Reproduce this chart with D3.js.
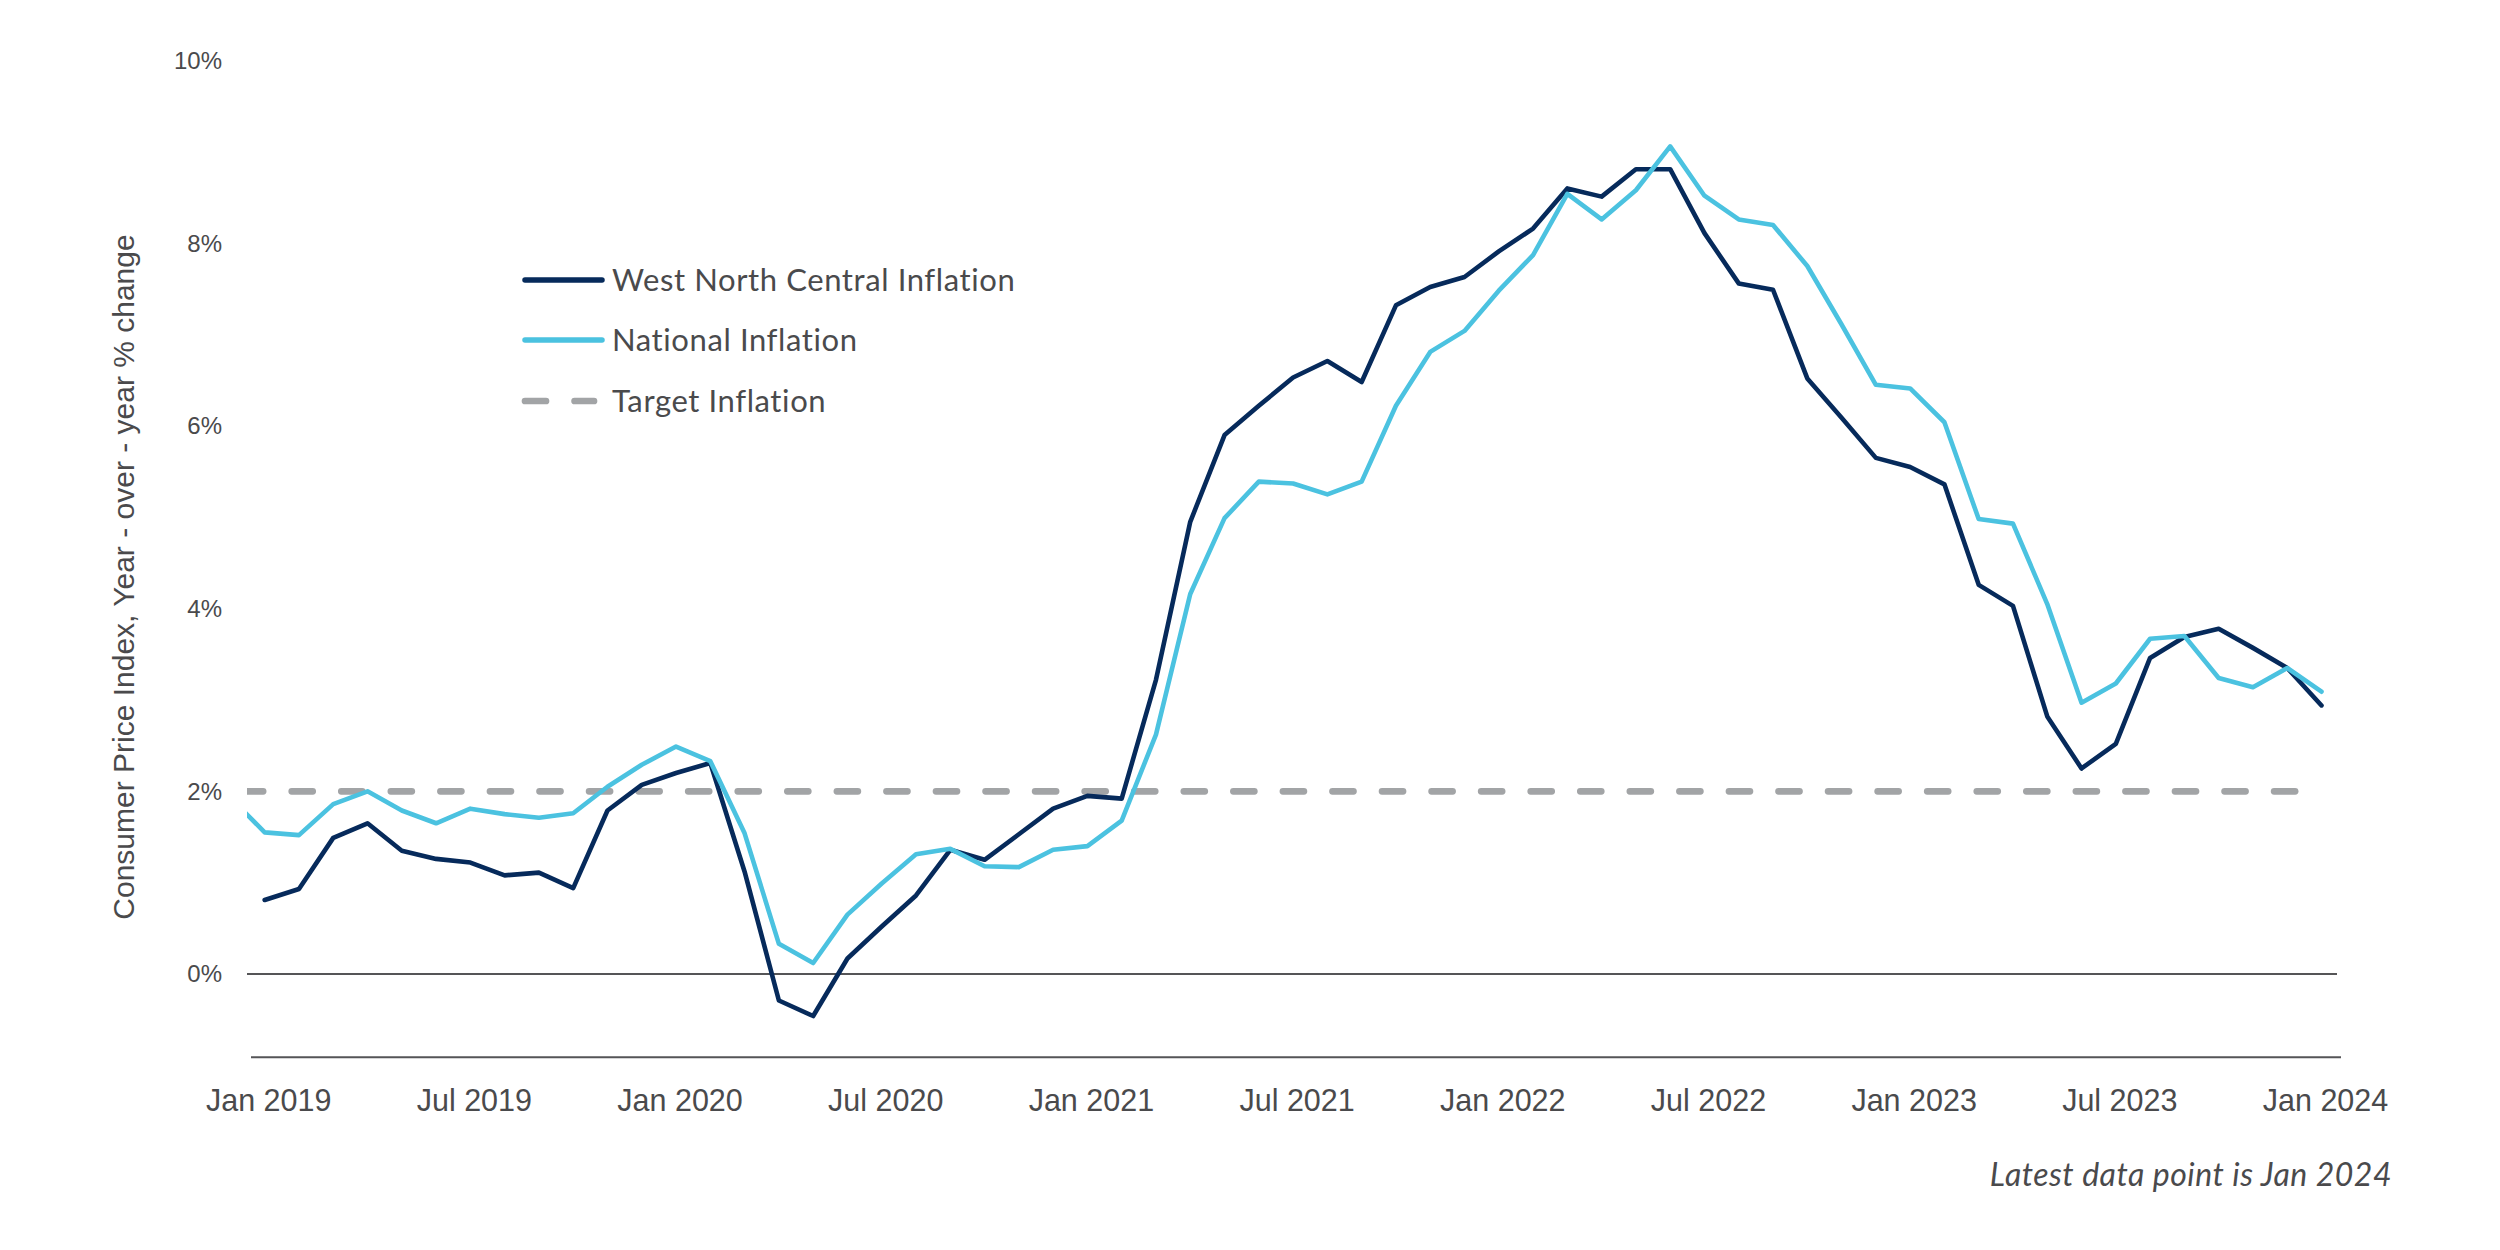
<!DOCTYPE html>
<html><head><meta charset="utf-8">
<script src="https://cdn.jsdelivr.net/npm/d3@7"></script>
<style>body{margin:0;background:#fff}svg{display:block}</style>
</head><body>
<svg id="chart" width="2500" height="1250"></svg>
<script>
const months = [
 "Dec 2018",
 "Jan 2019","Feb 2019","Mar 2019","Apr 2019","May 2019","Jun 2019","Jul 2019","Aug 2019","Sep 2019","Oct 2019","Nov 2019","Dec 2019",
 "Jan 2020","Feb 2020","Mar 2020","Apr 2020","May 2020","Jun 2020","Jul 2020","Aug 2020","Sep 2020","Oct 2020","Nov 2020","Dec 2020",
 "Jan 2021","Feb 2021","Mar 2021","Apr 2021","May 2021","Jun 2021","Jul 2021","Aug 2021","Sep 2021","Oct 2021","Nov 2021","Dec 2021",
 "Jan 2022","Feb 2022","Mar 2022","Apr 2022","May 2022","Jun 2022","Jul 2022","Aug 2022","Sep 2022","Oct 2022","Nov 2022","Dec 2022",
 "Jan 2023","Feb 2023","Mar 2023","Apr 2023","May 2023","Jun 2023","Jul 2023","Aug 2023","Sep 2023","Oct 2023","Nov 2023","Dec 2023",
 "Jan 2024"
];
const westNorthCentral = [
 null,
 0.81, 0.93, 1.49, 1.65, 1.35, 1.26, 1.22, 1.08, 1.11, 0.94, 1.79, 2.07,
 2.20, 2.31, 1.12, -0.29, -0.46, 0.17, 0.52, 0.86, 1.36, 1.25, 1.53, 1.81,
 1.95, 1.92, 3.22, 4.95, 5.90, 6.22, 6.53, 6.71, 6.48, 7.32, 7.52, 7.63,
 7.91, 8.16, 8.60, 8.51, 8.81, 8.81, 8.11, 7.56, 7.49, 6.52, 6.09, 5.65,
 5.55, 5.36, 4.26, 4.03, 2.82, 2.25, 2.52, 3.46, 3.69, 3.78, 3.57, 3.35,
 2.94
];
const nationalInflation = [
 1.93,
 1.55, 1.52, 1.86, 2.00, 1.79, 1.65, 1.81, 1.75, 1.71, 1.76, 2.05, 2.29,
 2.49, 2.33, 1.54, 0.33, 0.12, 0.65, 0.99, 1.31, 1.37, 1.18, 1.17, 1.36,
 1.40, 1.68, 2.62, 4.16, 4.99, 5.39, 5.37, 5.25, 5.39, 6.22, 6.81, 7.04,
 7.48, 7.87, 8.54, 8.26, 8.58, 9.06, 8.52, 8.26, 8.20, 7.75, 7.11, 6.45,
 6.41, 6.04, 4.98, 4.93, 4.05, 2.97, 3.18, 3.67, 3.70, 3.24, 3.14, 3.35,
 3.09
];
const targetMonths = ["Dec 2018", "Jan 2024"];
const targetValues = [2, 2];
const yTicks = [0, 2, 4, 6, 8, 10];
const xTickLabels = ["Jan 2019","Jul 2019","Jan 2020","Jul 2020","Jan 2021","Jul 2021","Jan 2022","Jul 2022","Jan 2023","Jul 2023","Jan 2024"];
const legendLabels = ["West North Central Inflation", "National Inflation", "Target Inflation"];

const C_WNC = "#062a5b", C_NAT = "#4bc2e0", C_TGT = "#a2a4a6", C_TXT = "#4a4a4c", C_AX = "#555557";

const svg = d3.select("#chart");
const plotL = 247, plotR = 2337;
const x = d3.scalePoint().domain(months).range([230.4, 2321.5]);
const y = d3.scaleLinear().domain([0, 10]).range([974, 60.5]);
const yBottom = y(-0.91);

svg.append("defs").append("clipPath").attr("id","clip")
  .append("rect").attr("x", plotL).attr("y", 0).attr("width", plotR - plotL).attr("height", 1250);

// zero line
svg.append("line").attr("x1", plotL).attr("x2", plotR).attr("y1", y(0)).attr("y2", y(0))
  .attr("stroke", C_AX).attr("stroke-width", 2);
// bottom axis line
svg.append("line").attr("x1", plotL + 4).attr("x2", plotR + 4).attr("y1", yBottom).attr("y2", yBottom)
  .attr("stroke", C_AX).attr("stroke-width", 2);

// y tick labels
svg.append("g").selectAll("text").data(yTicks).join("text")
  .attr("x", 222).attr("y", d => y(d)).attr("dy", "0.35em")
  .attr("text-anchor", "end").attr("font-family", "Liberation Sans, Arial, sans-serif")
  .attr("font-size", 24).attr("fill", C_TXT).text(d => d + "%");

// x tick labels
svg.append("g").selectAll("text").data(xTickLabels).join("text")
  .attr("x", d => x(d) + 4).attr("y", 1100).attr("dy", "0.35em")
  .attr("text-anchor", "middle").attr("font-family", "Liberation Sans, Arial, sans-serif")
  .attr("font-size", 30.5).attr("fill", C_TXT).text(d => d);

// y axis title
svg.append("text").attr("transform", "translate(123,577) rotate(-90)")
  .attr("text-anchor", "middle").attr("dy", "0.35em")
  .attr("font-family", "Liberation Sans, Arial, sans-serif").attr("font-size", 30)
  .attr("fill", C_TXT).text("Consumer Price Index, Year - over - year % change");

const g = svg.append("g").attr("clip-path", "url(#clip)");
const lineGen = d3.line().defined(d => d.v !== null).x(d => x(d.m)).y(d => y(d.v));

// target dashed
g.append("path").datum(targetMonths.map((m, i) => ({m, v: targetValues[i]})))
  .attr("d", lineGen).attr("fill", "none").attr("stroke", C_TGT).attr("stroke-width", 6.7)
  .attr("stroke-linecap", "round").attr("stroke-dasharray", "21 28.56").attr("stroke-dashoffset", 37.8);

g.append("path").datum(months.map((m, i) => ({m, v: westNorthCentral[i]})))
  .attr("d", lineGen).attr("fill", "none").attr("stroke", C_WNC).attr("stroke-width", 4.6)
  .attr("stroke-linejoin", "round").attr("stroke-linecap", "round");

g.append("path").datum(months.map((m, i) => ({m, v: nationalInflation[i]})))
  .attr("d", lineGen).attr("fill", "none").attr("stroke", C_NAT).attr("stroke-width", 4.6)
  .attr("stroke-linejoin", "round").attr("stroke-linecap", "round");

// legend
const legY = [280, 340, 401];
const legColors = [C_WNC, C_NAT, C_TGT];
const leg = svg.append("g");
legendLabels.forEach((lab, i) => {
  const ln = leg.append("line").attr("x1", 525).attr("x2", i === 2 ? 594 : 602)
    .attr("y1", legY[i]).attr("y2", legY[i]).attr("stroke", legColors[i])
    .attr("stroke-width", i === 2 ? 6.7 : 5.5).attr("stroke-linecap", "round");
  if (i === 2) ln.attr("stroke-dasharray", "21 28.56");
  leg.append("text").attr("x", 612).attr("y", legY[i]).attr("dy", "0.35em")
    .attr("font-family", "Lato, sans-serif").attr("font-size", 31).attr("letter-spacing", 0.6)
    .attr("fill", C_TXT).text(lab);
});

// footnote
svg.append("text").attr("x", 2392).attr("y", 1175).attr("dy", "0.35em").attr("text-anchor", "end")
  .attr("font-family", "Lato, sans-serif").attr("font-style", "italic").attr("font-size", 32)
  .attr("letter-spacing", 0.5).attr("fill", C_TXT).text("Latest data point is Jan 2024");
</script>
</body></html>
